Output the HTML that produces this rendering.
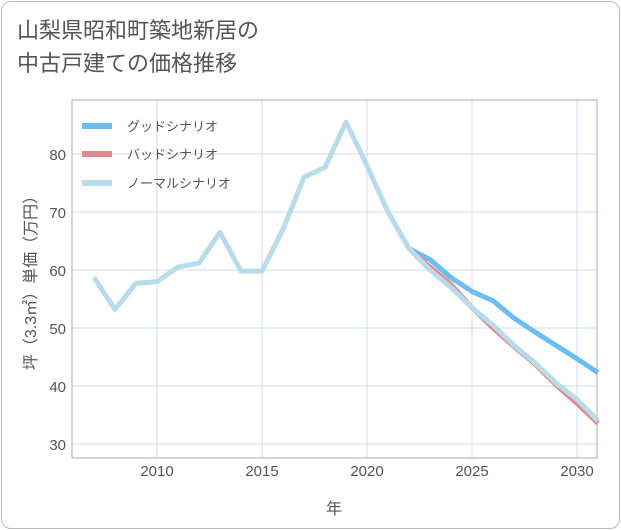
<!DOCTYPE html>
<html><head><meta charset="utf-8"><style>
body{margin:0;background:#fff;}
#card{position:absolute;left:1px;top:1px;width:617px;height:526px;border:1px solid #bbb;border-radius:10px;background:#fff;}
#title{position:absolute;left:17px;top:14px;font:22px "Liberation Sans","Noto Sans CJK JP",sans-serif;color:#555;line-height:33px;}
svg{position:absolute;left:0;top:0;}
text{font-family:"Liberation Sans","Noto Sans CJK JP",sans-serif;}
</style></head><body>
<div id="card"></div>
<div id="title">山梨県昭和町築地新居の<br>中古戸建ての価格推移</div>
<svg id="chart" width="621" height="530"></svg>
<script>
const years=[2007,2008,2009,2010,2011,2012,2013,2014,2015,2016,2017,2018,2019,2020,2021,2022,2023,2024,2025,2026,2027,2028,2029,2030,2031];
const normal=[58.7,53.2,57.7,58,60.5,61.2,66.5,59.8,59.8,67,76,77.7,85.5,78,70,63.7,60,57,53.5,50.5,47,44,40.5,37.7,34];
const goodYears=[2022,2023,2024,2025,2026,2027,2028,2029,2030,2031];
const good=[63.7,61.8,58.7,56.3,54.7,51.7,49.3,47,44.7,42.3];
const bad=[63.7,60.5,57.5,53.5,50,46.8,43.8,40.2,37,33.6];
const xTicks=[2010,2015,2020,2025,2030];
const yTicks=[30,40,50,60,70,80];
const L=72,R=597,T=100,B=458;
const sx=y=>157+(y-2010)*21;
const sy=v=>154+(80-v)*5.8;
const svg=document.getElementById('chart');
const NS='http://www.w3.org/2000/svg';
function mk(t,a){const e=document.createElementNS(NS,t);for(const k in a)e.setAttribute(k,a[k]);svg.appendChild(e);return e;}
xTicks.forEach(t=>{
 const l=mk('line',{x1:sx(t),x2:sx(t),y1:T,y2:B,stroke:'#d3dde8','stroke-width':1});
 
 
 const tx=mk('text',{x:sx(t),y:476,'text-anchor':'middle','font-size':15,fill:'#555'});tx.textContent=t;
 
 
});
yTicks.forEach(t=>{
 const l=mk('line',{x1:L,x2:R,y1:sy(t),y2:sy(t),stroke:'#d3dde8','stroke-width':1});
 
 
 const tx=mk('text',{x:66,y:sy(t)+6,'text-anchor':'end','font-size':15,fill:'#555'});tx.textContent=t;
 
 
});
const fr=mk('rect',{x:L,y:T,width:R-L,height:B-T,fill:'none',stroke:'#aab','stroke-width':1});


function line(xs,vs,col,w,name){
 const p=mk('polyline',{points:xs.map((x,i)=>sx(x)+','+sy(vs[i])).join(' '),fill:'none',stroke:col,'stroke-width':w,'stroke-linejoin':'round'});
 
 
}
const cp=mk('clipPath',{id:'c'});
const cr=document.createElementNS(NS,'rect');cr.setAttribute('x',L);cr.setAttribute('y',T);cr.setAttribute('width',R-L);cr.setAttribute('height',B-T);cp.appendChild(cr);
line(goodYears,good,'#6bbdf2',5,'good-scenario-line');
line(goodYears,bad,'#e08a90',5,'bad-scenario-line');
line(years,normal,'#b8dcea',5,'normal-scenario-line');
const leg=[['グッドシナリオ','#6bbdf2',126],['バッドシナリオ','#e08a90',154],['ノーマルシナリオ','#b8dcea',183]];
leg.forEach(l=>{
 const r=mk('rect',{x:82,y:l[2]-3,width:30,height:6,fill:l[1]});
 
 
 const t=mk('text',{x:127,y:l[2]+5,'font-size':13,fill:'#555'});t.textContent=l[0];
 
 
});
const yt=mk('text',{transform:'translate(36,279) rotate(-90)','text-anchor':'middle','font-size':16,fill:'#555'});yt.textContent='坪（3.3㎡）単価（万円）';


const xt=mk('text',{x:334,y:514,'text-anchor':'middle','font-size':16,fill:'#555'});xt.textContent='年';


</script>
</body></html>
